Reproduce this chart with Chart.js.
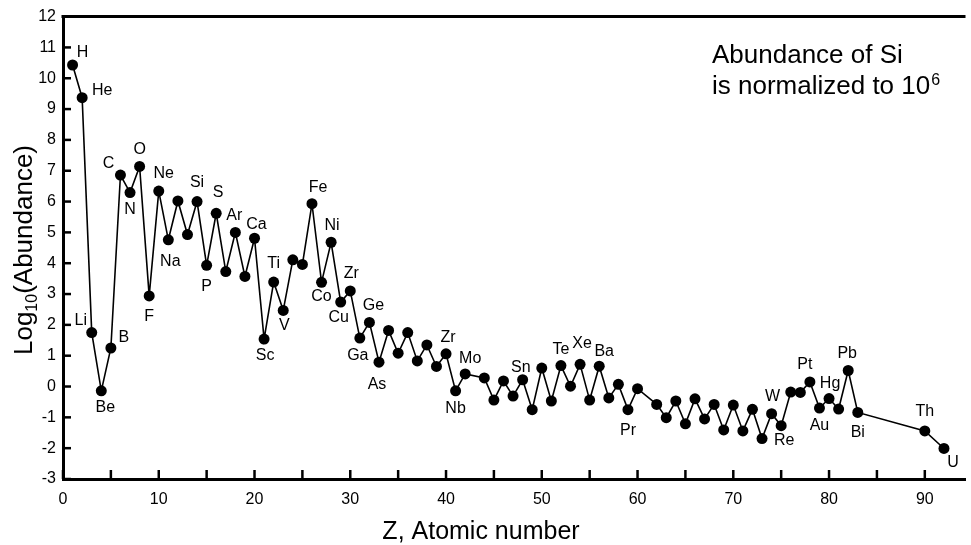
<!DOCTYPE html>
<html>
<head>
<meta charset="utf-8">
<script src="https://cdn.jsdelivr.net/npm/chart.js@4/dist/chart.umd.min.js"></script>
<style>
html,body{margin:0;padding:0;background:#fff;}
#wrap{width:971px;height:545px;position:relative;}
</style>
</head>
<body>
<div id="wrap"><canvas id="c" width="971" height="545"></canvas></div>
<script>
// ---- DATA ----
const atomicNumbers = [
  1,2,3,4,5,6,7,8,9,10,11,12,13,14,15,16,17,18,19,20,
  21,22,23,24,25,26,27,28,29,30,31,32,33,34,35,36,37,38,39,40,
  41,42,44,45,46,47,48,49,50,51,52,53,54,55,56,57,58,59,60,
  62,63,64,65,66,67,68,69,70,71,72,73,74,75,76,77,78,79,80,81,82,83,
  90,92
];
const logAbundance = [
  10.43,9.37,1.75,-0.14,1.25,6.86,6.29,7.14,2.94,6.34,4.76,6.02,4.93,6.00,3.93,5.62,3.73,5.00,3.57,4.81,
  1.54,3.39,2.47,4.11,3.96,5.93,3.38,4.68,2.74,3.10,1.57,2.08,0.79,1.82,1.08,1.75,0.83,1.35,0.65,1.06,
  -0.14,0.41,0.28,-0.44,0.18,-0.31,0.22,-0.75,0.60,-0.47,0.68,0.01,0.72,-0.44,0.66,-0.37,0.07,-0.75,-0.07,
  -0.58,-1.01,-0.47,-1.21,-0.40,-1.05,-0.58,-1.41,-0.60,-1.44,-0.74,-1.69,-0.88,-1.27,-0.18,-0.19,0.15,-0.70,-0.39,-0.73,0.52,-0.84,
  -1.44,-2.01
];
const labelZ = [1,2,3,4,5,6,7,8,9,10,11,14,16,15,18,20,21,22,23,26,28,27,29,30,31,32,33,40,41,42,50,52,54,56,59,74,75,78,79,80,82,83,90,92];
const labelText = ['H','He','Li','Be','B','C','N','O','F','Ne','Na','Si','S','P','Ar','Ca','Sc','Ti','V','Fe','Ni','Co','Cu','Zr','Ga','Ge','As','Zr','Nb','Mo','Sn','Te','Xe','Ba','Pr','W','Re','Pt','Au','Hg','Pb','Bi','Th','U'];
const xRange = [0, 94.25];
const yRange = [-3, 12];
const xTickStep = 5;
const xLabelEvery = 10;
const yTickStep = 1;
const xTitle = 'Z, Atomic number';
const yTitleParts = ['Log', '10', '(Abundance)'];
const noteLine1 = 'Abundance of Si';
const noteLine2 = 'is normalized to 10';
const noteSup = '6';

// ---- STYLE (label offsets in px, same order as labelText) ----
const labelOffsets = [
  [10,-12],[20,-7],[-11,-12],[4,17],[13,-10],[-12,-11],[0,17],[0,-17],[0,21],[5,-17],[2,22],[0,-19],[2,-21],[0,21],[-1,-17],[2,-14],[1,17],[0,-18],[1,15],
  [6,-16],[1,-17],[0,14],[-2,16],[1,-17],[-2,17],[4,-17],[-2,22],[2,-16],[0,18],[5,-15],[-21,0],[0,-16],[2,-21],[5,-15],[0,21],
  [1,-17],[3,15],[-5,-17],[0,17],[1,-15],[-1,-17],[0,20],[0,-19],[9,14]
];
const FONT = '"Liberation Sans", Arial, Helvetica, sans-serif';
const INK = '#000';

const points = atomicNumbers.map((z, i) => ({x: z, y: logAbundance[i]}));

const decorPlugin = {
  id: 'decor',
  afterDraw(chart) {
    const ctx = chart.ctx;
    const ca = chart.chartArea;
    const xs = chart.scales.x, ys = chart.scales.y;
    ctx.save();
    ctx.strokeStyle = INK;
    // top border
    ctx.lineWidth = 3;
    ctx.beginPath();
    ctx.moveTo(ca.left - 1.5, ca.top);
    ctx.lineTo(ca.right, ca.top);
    ctx.stroke();
    // inward ticks
    ctx.lineWidth = 2.5;
    xs.ticks.forEach(t => {
      const px = xs.getPixelForValue(t.value);
      ctx.beginPath(); ctx.moveTo(px, ca.bottom); ctx.lineTo(px, ca.bottom - 9); ctx.stroke();
    });
    ys.ticks.forEach(t => {
      const py = ys.getPixelForValue(t.value);
      ctx.beginPath(); ctx.moveTo(ca.left, py); ctx.lineTo(ca.left + 8, py); ctx.stroke();
    });
    // point labels
    ctx.fillStyle = INK;
    ctx.font = '16px ' + FONT;
    ctx.textAlign = 'center';
    ctx.textBaseline = 'middle';
    labelText.forEach((txt, i) => {
      const z = labelZ[i];
      const idx = atomicNumbers.indexOf(z);
      const px = xs.getPixelForValue(z);
      const py = ys.getPixelForValue(logAbundance[idx]);
      const o = labelOffsets[i];
      ctx.fillText(txt, px + o[0], py + o[1]);
    });
    // x title
    ctx.font = '25px ' + FONT;
    ctx.textBaseline = 'alphabetic';
    ctx.fillText(xTitle, 481, 539);
    // y title (rotated, with subscript)
    ctx.save();
    ctx.translate(0, 250);
    ctx.rotate(-Math.PI / 2);
    ctx.textAlign = 'left';
    const big = '26px ' + FONT, small = '16px ' + FONT;
    ctx.font = big; const w1 = ctx.measureText(yTitleParts[0]).width;
    ctx.font = small; const w2 = ctx.measureText(yTitleParts[1]).width;
    ctx.font = big; const w3 = ctx.measureText(yTitleParts[2]).width;
    let u = -(w1 + w2 + w3) / 2;
    const base = 32;
    ctx.font = big; ctx.fillText(yTitleParts[0], u, base); u += w1;
    ctx.font = small; ctx.fillText(yTitleParts[1], u, base + 5); u += w2;
    ctx.font = big; ctx.fillText(yTitleParts[2], u, base);
    ctx.restore();
    // annotation
    ctx.textAlign = 'left';
    ctx.textBaseline = 'alphabetic';
    ctx.font = '26px ' + FONT;
    ctx.fillText(noteLine1, 712, 63);
    ctx.fillText(noteLine2, 712, 94);
    const wl = ctx.measureText(noteLine2).width;
    ctx.font = '16px ' + FONT;
    ctx.fillText(noteSup, 712 + wl + 1, 85);
    ctx.restore();
  }
};

new Chart(document.getElementById('c'), {
  type: 'line',
  data: {
    datasets: [{
      data: points,
      borderColor: INK,
      borderWidth: 1.6,
      backgroundColor: INK,
      pointBackgroundColor: INK,
      pointBorderColor: INK,
      pointRadius: 5.5,
      pointBorderWidth: 0,
      tension: 0,
      fill: false
    }]
  },
  options: {
    responsive: false,
    animation: false,
    devicePixelRatio: 1,
    parsing: true,
    layout: {padding: {top: 16, right: 0, bottom: 0, left: 0}},
    plugins: {legend: {display: false}, tooltip: {enabled: false}},
    scales: {
      x: {
        type: 'linear',
        min: xRange[0], max: xRange[1],
        grid: {display: false, drawTicks: false},
        border: {display: true, width: 3, color: INK},
        ticks: {
          stepSize: xTickStep, includeBounds: false, autoSkip: false, maxRotation: 0,
          color: INK, font: {size: 16, family: FONT}, padding: 11,
          callback: v => (v % xLabelEvery === 0 ? String(v) : '')
        },
        afterFit: s => { s.height = 66; }
      },
      y: {
        type: 'linear',
        min: yRange[0], max: yRange[1],
        grid: {display: false, drawTicks: false},
        border: {display: true, width: 3, color: INK},
        ticks: {stepSize: yTickStep, color: INK, font: {size: 16, family: FONT}, padding: 7},
        afterFit: s => { s.width = 63; }
      }
    }
  },
  plugins: [decorPlugin]
});
</script>
</body>
</html>
